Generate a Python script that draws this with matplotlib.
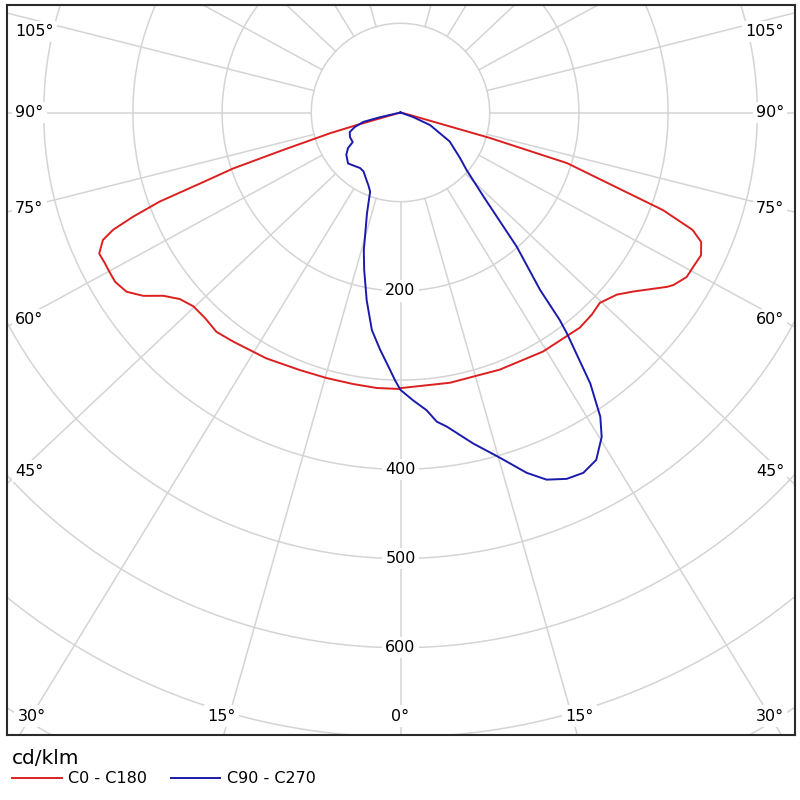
import numpy as np
import matplotlib.pyplot as plt

plt.rcParams['font.family'] = ['DejaVu Sans']

# luminous intensity per C-plane, gamma in degrees from nadir, values in cd/klm
c0_gamma = [0, 10.4, 21.1, 30.8, 39.8, 43.4, 46.3, 49.9, 52.4, 56.8, 57.7,
            60.1, 62.2, 64.6, 66.7, 68.1, 69.6, 73.1, 74.1, 75.3, 90]
c0_cd = [309, 308, 309, 312, 314, 312, 309, 317, 329, 357, 362,
         370, 371, 373, 367, 353, 314, 195, 104, 11, 0]

c180_gamma = [0, 4.9, 9.9, 15.5, 21.3, 28.6, 36.1, 40.0, 43.5, 46.9, 49.8,
              52.3, 54.5, 56.8, 59.3, 61.0, 63.0, 64.9, 66.8, 67.8, 68.7,
              69.7, 70.5, 71.5, 72.3, 73.6, 74.0, 90]
c180_cd = [310, 310, 309, 309, 310, 314, 318, 321, 318, 318, 324,
           336, 354, 367, 372, 372, 372, 373, 363, 348, 322,
           288, 238, 198, 138, 82, 51, 0]

c90_gamma = [0, 2.5, 5.0, 6.7, 8.4, 12.4, 16.1, 19.3, 21.7, 24.4, 26.9,
             29.4, 31.8, 33.3, 35.0, 37.0, 37.5, 38.2, 40.9, 44.6, 49.0,
             52.6, 59.5, 67.0, 70.2, 90]
c90_cd = [311, 323, 335, 349, 356, 380, 403, 428, 443, 451, 453,
          447, 428, 408, 371, 310, 293, 253, 199, 133, 98,
          84, 64, 36, 15, 0]

c270_gamma = [0, 1.2, 2.3, 4.9, 7.5, 10.2, 13.0, 14.9, 18.4, 21.0, 23.9,
              26.6, 32.1, 36.0, 45.8, 52.1, 55.9, 58.2, 64.1, 68.9, 72.3,
              75.8, 77.0, 90]
c270_cd = [311, 300, 289, 267, 246, 214, 181, 160, 119, 95, 89,
           85, 78, 77, 82, 77, 71, 63, 63, 61, 54,
           43, 24, 0]

ring_values = [100, 200, 300, 400, 500, 600, 700, 800]
ring_labels = [200, 400, 500, 600]
spoke_angles = [0, 15, 30, 45, 60, 75, 90, 105, 120, 135, 150, 165]
side_labels = [45, 60, 75, 90, 105]
bottom_labels = [0, 15, 30]

GRID = '#d4d4d4'
RED = '#dc1f1f'
BLUE = '#1a1aad'
PX = 0.892          # pixels per cd/klm
SKEW = 1.06         # spokes in the source are drawn slightly splayed


def half_xy(gamma, cd, side):
    g = np.radians(np.asarray(gamma, float))
    cd = np.asarray(cd, float)
    return side * cd * np.sin(g), -cd * np.cos(g)


def plane_pair(g_left, cd_left, g_right, cd_right):
    xl, yl = half_xy(g_left, cd_left, -1)
    xr, yr = half_xy(g_right, cd_right, 1)
    return np.concatenate([xl[::-1], xr]), np.concatenate([yl[::-1], yr])


fig = plt.figure(figsize=(8, 8), dpi=100)
ax = fig.add_axes([7 / 800, 65 / 800, 788 / 800, 730 / 800])
ax.set_xlim((7 - 400.5) / PX, (795 - 400.5) / PX)
ax.set_ylim(-(735 - 112.5) / PX, (112.5 - 5) / PX)
ax.set_xticks([])
ax.set_yticks([])
for sp in ax.spines.values():
    sp.set_linewidth(1.5)
    sp.set_color('#2a2a2a')

t = np.linspace(0, 2 * np.pi, 721)
for r in ring_values:
    ax.plot(r * np.cos(t), r * np.sin(t), color=GRID, lw=1.1, zorder=1)

for a in spoke_angles:
    sides = [1] if a == 0 else [-1, 1]
    for side in sides:
        dx, dy = SKEW * np.sin(np.radians(a)), -np.cos(np.radians(a))
        n = np.hypot(dx, dy)
        dx, dy = side * dx / n, dy / n
        ax.plot([100 * dx, 1300 * dx], [100 * dy, 1300 * dy], color=GRID, lw=1.1, zorder=1)

xr, yr = plane_pair(c180_gamma, c180_cd, c0_gamma, c0_cd)
xb, yb = plane_pair(c270_gamma, c270_cd, c90_gamma, c90_cd)
red_line, = ax.plot(xr, yr, color=RED, lw=1.4, zorder=3)
blue_line, = ax.plot(xb, yb, color=BLUE, lw=1.4, zorder=4)

box = dict(boxstyle='square,pad=0.2', fc='white', ec='none')
for v in ring_labels:
    ax.text(0, -v, str(v), ha='center', va='center', fontsize=11.5, bbox=box, zorder=2)

for a in side_labels:
    y = min(-402 / np.tan(np.radians(a)) if a != 90 else 0, 91)
    ax.text(-432, y, f'{a}°', ha='left', va='center', fontsize=11.5, bbox=box, zorder=2)
    ax.text(430, y, f'{a}°', ha='right', va='center', fontsize=11.5, bbox=box, zorder=2)

for a in bottom_labels:
    y = -676.6
    if a == 0:
        ax.text(0, y, '0°', ha='center', va='center', fontsize=11.5, bbox=box, zorder=2)
        continue
    x = min(697.9 * np.tan(np.radians(a)) + 13.5, 413.7)
    ax.text(-x, y, f'{a}°', ha='center', va='center', fontsize=11.5, bbox=box, zorder=2)
    ax.text(x, y, f'{a}°', ha='center', va='center', fontsize=11.5, bbox=box, zorder=2)

fig.legend([red_line, blue_line], ['C0 - C180', 'C90 - C270'],
           loc='upper left', bbox_to_anchor=(12 / 800, 1 - 749 / 800),
           ncol=2, frameon=False, title='cd/klm', title_fontsize=14.5,
           fontsize=11.5, alignment='left', handlelength=3.1,
           handletextpad=0.4, columnspacing=1.5, borderpad=0,
           borderaxespad=0, labelspacing=0.2)

fig.savefig('out.png', dpi=100)
